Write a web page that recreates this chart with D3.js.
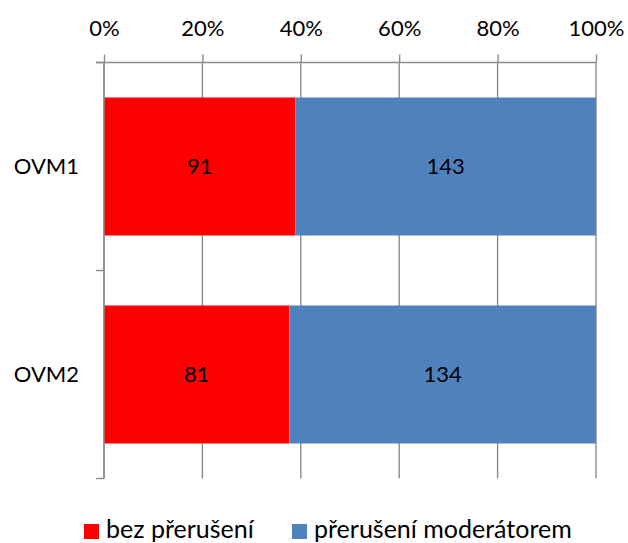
<!DOCTYPE html>
<html>
<head>
<meta charset="utf-8">
<script src="https://cdn.jsdelivr.net/npm/d3@7"></script>
<style>
  html, body { margin: 0; padding: 0; background: #fff; }
  svg text { font-family: Lato, "Open Sans", sans-serif; fill: #000; }
</style>
</head>
<body>
<svg id="chart" width="628" height="543"></svg>
<script>
const categories = ["OVM1", "OVM2"];
const seriesNames = ["bez přerušení", "přerušení moderátorem"];
const bezPreruseni = [91, 81];
const preruseniModeratorem = [143, 134];
const tickValues = [0, 0.2, 0.4, 0.6, 0.8, 1.0];
const colors = ["#FF0000", "#4F81BD"];

(function () {
const svg = d3.select("#chart");
const pL = 104, pR = 596, pT = 62.5, pB = 478.5;
const fontSize = 22;
const legendFont = 25;

const x = d3.scaleLinear().domain([0, 1]).range([pL, pR]);
const p = 0.3365;
const y = d3.scaleBand().domain(categories).range([pT, pB]).paddingInner(p).paddingOuter(p / 2);

const grid = "#8C8C8C";

// vertical gridlines
svg.append("g").selectAll("line").data(tickValues).join("line")
  .attr("x1", d => x(d)).attr("x2", d => x(d))
  .attr("y1", pT).attr("y2", pB)
  .attr("stroke", grid).attr("stroke-width", 1.4);

// stacked data
const data = categories.map((c, i) => {
  const total = bezPreruseni[i] + preruseniModeratorem[i];
  return { cat: c, vals: [bezPreruseni[i], preruseniModeratorem[i]], total };
});
const stack = d3.stack().keys([0, 1]).value((d, k) => d.vals[k] / d.total);
const layers = stack(data);

const gBars = svg.append("g");
layers.forEach((layer, k) => {
  gBars.selectAll(null).data(layer).join("rect")
    .attr("x", d => x(d[0]))
    .attr("width", d => x(d[1]) - x(d[0]))
    .attr("y", d => y(d.data.cat))
    .attr("height", y.bandwidth())
    .attr("fill", colors[k]);
  gBars.selectAll(null).data(layer).join("text")
    .attr("x", d => (x(d[0]) + x(d[1])) / 2)
    .attr("y", d => y(d.data.cat) + y.bandwidth() / 2 + fontSize * 0.36)
    .attr("text-anchor", "middle")
    .attr("font-size", fontSize)
    .text(d => d.data.vals[k]);
});

// top axis
const axTop = svg.append("g").attr("transform", `translate(0,${pT})`)
  .call(d3.axisTop(x).tickValues(tickValues).tickSize(8).tickPadding(18.5).tickFormat(d3.format(".0%")));
axTop.select(".domain").remove();
axTop.selectAll(".tick line").attr("stroke", grid).attr("stroke-width", 1.4);
axTop.selectAll(".tick text").attr("font-size", fontSize).attr("font-family", "Lato, 'Open Sans', sans-serif").attr("fill", "#000");
svg.append("line").attr("x1", pL - 8).attr("x2", pR).attr("y1", pT).attr("y2", pT)
  .attr("stroke", grid).attr("stroke-width", 1.4);

// left axis
svg.append("line").attr("x1", pL).attr("x2", pL).attr("y1", pT).attr("y2", pB)
  .attr("stroke", grid).attr("stroke-width", 1.4);
const boundaries = [pT].concat(categories.map(c => y(c) - y.step() * p / 2 + y.step()));
svg.append("g").selectAll("line").data(boundaries).join("line")
  .attr("x1", pL - 8).attr("x2", pL).attr("y1", d => d).attr("y2", d => d)
  .attr("stroke", grid).attr("stroke-width", 1.4);
const axLeft = svg.append("g").attr("transform", `translate(${pL},0)`)
  .call(d3.axisLeft(y).tickSize(0).tickPadding(25));
axLeft.select(".domain").remove();
axLeft.selectAll(".tick text").attr("font-size", fontSize).attr("font-family", "Lato, 'Open Sans', sans-serif").attr("fill", "#000")
  .attr("dy", null).attr("y", fontSize * 0.36);

// legend
const legendX = [84, 292];
const leg = svg.append("g");
seriesNames.forEach((n, i) => {
  leg.append("rect").attr("x", legendX[i]).attr("y", 524).attr("width", 15).attr("height", 15).attr("fill", colors[i]);
  leg.append("text").attr("x", legendX[i] + 22).attr("y", 538).attr("font-size", legendFont).text(n);
});
})();
</script>
</body>
</html>
